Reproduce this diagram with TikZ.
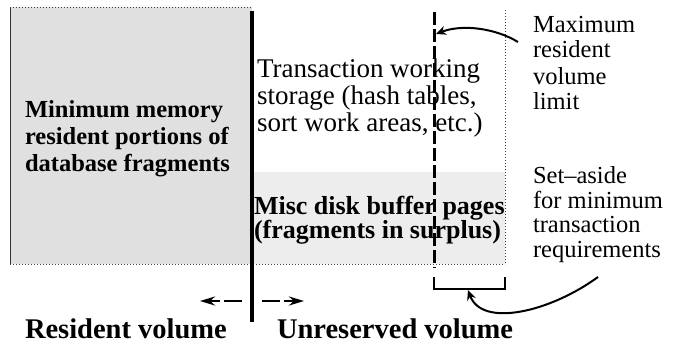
\documentclass[tikz,border=0pt]{standalone}
\usepackage{fontspec}
\setmainfont{Liberation Serif}
\usetikzlibrary{arrows.meta}
\tikzset{
  lbl/.style={anchor=base west, inner sep=0pt, outer sep=0pt},
  leftbold/.style={lbl, font=\bfseries\fontsize{24.5}{28}\selectfont},
  transtxt/.style={lbl, font=\fontsize{27}{29}\selectfont},
  misctxt/.style={lbl, font=\bfseries\fontsize{26}{24}\selectfont},
  sidetxt/.style={lbl, font=\fontsize{24.5}{25}\selectfont},
  voltxt/.style={lbl, font=\bfseries\fontsize{28.5}{30}\selectfont},
  dotline/.style={line width=0.7pt, dash pattern=on 1.2pt off 1.8pt, black!75},
  curvearrow/.style={line width=2pt, -{Stealth[length=10pt,width=9pt]}},
  dirarrow/.style={line width=2.4pt, dash pattern=on 18pt off 4pt, -{Stealth[length=15pt,width=9pt]}}
}
\begin{document}
\begin{tikzpicture}[x=1pt,y=-1pt]
\useasboundingbox (0,0) rectangle (687,345);
% regions
\coordinate (tl) at (10,7);
\coordinate (bl) at (10,264);
\coordinate (tm) at (252,7);
\coordinate (bm) at (252,264);
\coordinate (tr) at (505,10);
\coordinate (br) at (505,264);
\fill[black!12] (tl) rectangle (bm);
\fill[black!7] (252,172) rectangle (br);
% borders
\draw[line width=0.8pt, black!80] (tl) -- (bl);
\draw[dotline] (tl) -- (tm);
\draw[dotline] (bl) -- (br);
\draw[dotline] (tr) -- (br);
% thick divider
\coordinate (divtop) at (252,11);
\coordinate (divbot) at (252,322);
\draw[line width=4pt] (divtop) -- (divbot);
% dashed limit line
\coordinate (limtop) at (434,12);
\coordinate (limbot) at (434,268);
\draw[line width=3pt, dash pattern=on 13pt off 4pt] (limtop) -- (limbot);
% bracket
\coordinate (brA) at (434,277);
\coordinate (brB) at (434,289);
\coordinate (brC) at (505,289);
\coordinate (brD) at (505,277);
\draw[line width=2.2pt] (brA) -- (brB) -- (brC) -- (brD);
% texts
\node[leftbold] (m1) at (25,117) {Minimum memory};
\node[leftbold] (m2) at (25,144) {resident portions of};
\node[leftbold] (m3) at (25,171) {database fragments};
\node[transtxt] (t1) at (257,77) {Transaction working};
\node[transtxt] (t2) at (257,104) {storage (hash tables,};
\node[transtxt] (t3) at (257,131) {sort work areas, etc.)};
\node[misctxt] (d1) at (254,214) {Misc disk buffer pages};
\node[misctxt] (d2) at (254,238) {(fragments in surplus)};
\node[sidetxt] (x1) at (533,33) {Maximum};
\node[sidetxt] (x2) at (533,58) {resident};
\node[sidetxt] (x3) at (533,84) {volume};
\node[sidetxt] (x4) at (533,109) {limit};
\node[sidetxt] (s1) at (533,183) {Set–aside};
\node[sidetxt] (s2) at (533,208) {for minimum};
\node[sidetxt] (s3) at (533,232) {transaction};
\node[sidetxt] (s4) at (533,257) {requirements};
\node[voltxt] (rv) at (25,338) {Resident volume};
\node[voltxt] (uv) at (277,338) {Unreserved volume};
% curved arrows
\coordinate (maxstart) at (518,42);
\coordinate (maxend) at (436,34);
\draw[curvearrow] (maxstart) .. controls (495,28) and (462,24) .. (maxend);
\coordinate (setstart) at (598,277);
\coordinate (setend) at (468,290);
\draw[curvearrow] (setstart) .. controls (550,312) and (482,328) .. (setend);
% direction arrows
\coordinate (la1) at (242,301);
\coordinate (la2) at (200,301);
\coordinate (ra1) at (262,301);
\coordinate (ra2) at (304,301);
\draw[dirarrow] (la1) -- (la2);
\draw[dirarrow] (ra1) -- (ra2);
\end{tikzpicture}
\end{document}
